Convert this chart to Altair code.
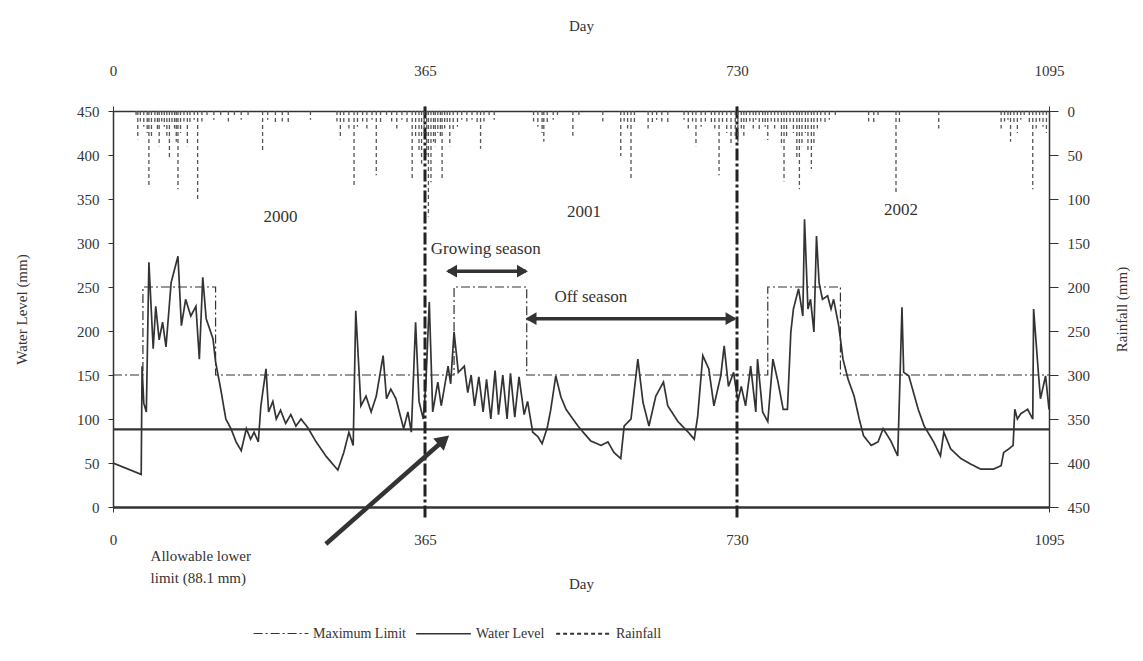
import altair as alt
import pandas as pd

FONT = "Liberation Serif"
INK = "#333333"

# ---------------- data ----------------
wl_day = [0,33,34,36,39,42,47,50,54,58,
          62,68,76,80,85,91,97,101,105,109,
          117,120,126,132,138,144,150,156,161,165,
          170,173,179,182,187,191,196,202,208,214,
          220,228,237,249,263,270,276,281,284,290,
          296,302,308,316,320,325,331,340,345,349,
          354,358,363,366,370,374,380,384,392,395,
          399,404,411,415,419,423,428,433,437,442,
          447,451,456,461,465,470,475,481,485,491,
          497,502,508,512,518,524,530,538,544,550,
          559,571,579,586,594,598,606,614,620,627,
          635,644,649,661,673,680,684,690,697,703,
          711,715,720,726,731,735,740,746,752,754,
          760,766,772,778,784,789,793,796,802,807,
          809,813,816,820,823,826,830,836,840,843,
          849,854,860,867,873,878,887,895,901,910,
          918,920,923,925,931,942,949,960,968,972,
          980,992,1003,1015,1030,1039,1042,1048,1053,1055,
          1058,1062,1070,1076,1077,1082,1085,1091,1095]
wl_val = [50,37,160,118,108,278,180,228,190,210,
          182,255,285,206,236,217,228,168,261,214,
          191,165,134,100,89,74,64,89,77,85,
          74,115,157,108,120,100,110,95,105,92,
          100,90,75,58,42,62,85,70,223,115,
          126,108,126,172,123,134,123,89,108,85,
          210,120,100,140,233,108,142,115,160,140,
          199,153,160,130,150,115,148,108,145,100,
          155,105,150,100,152,102,148,105,120,85,
          80,72,90,110,149,125,111,100,92,85,
          75,70,74,62,55,92,100,168,119,92,
          126,142,115,97,85,77,103,172,157,115,
          149,183,137,153,120,137,115,160,108,168,
          108,97,168,142,111,111,199,225,248,217,
          327,225,236,199,308,255,236,240,225,236,
          206,168,145,126,100,81,70,74,89,75,
          58,123,227,153,149,111,92,74,58,85,
          66,55,49,43,43,47,62,66,70,111,
          100,106,111,100,225,160,123,149,111]

max_day = [0,35,35,120,120,399,399,484,484,766,766,851,851,1095]
max_val = [150,150,250,250,150,150,250,250,150,150,250,250,150,150]

rain_day = [27,29,32,36,40,42,45,49,52,54,57,60,63,66,69,72,74,76,79,83,87,90,95,99,104,110,118,126,135,142,150,158,
            175,181,190,198,205,231,262,266,270,276,282,286,292,297,303,308,313,320,326,332,338,344,350,354,358,361,364,
            367,369,372,375,377,380,383,385,388,391,394,398,403,408,414,420,426,430,434,440,446,
            492,497,502,504,508,515,520,538,545,573,594,598,602,606,610,626,631,636,642,649,
            668,673,678,682,688,693,700,704,709,713,718,723,728,
            731,735,738,741,745,749,752,756,760,763,766,770,774,778,782,785,788,792,796,800,803,806,810,813,817,820,
            824,828,833,838,845,884,890,895,916,920,966,1039,1043,1047,1050,1054,1058,1062,1066,1072,1076,1080,1084,1088,1092]
rain_val = [8,32,12,18,25,84,30,15,22,40,12,18,28,55,14,20,35,89,25,12,40,15,10,103,12,8,10,6,12,8,10,6,
            47,10,15,12,14,10,12,32,15,20,85,18,12,20,10,73,15,8,12,20,10,15,77,30,45,60,25,
            50,120,81,35,40,25,30,77,20,15,40,22,18,10,12,10,15,43,12,8,10,
            12,18,25,35,15,10,8,28,8,12,51,12,20,77,15,20,15,10,12,14,
            10,20,12,40,18,12,15,20,73,15,25,40,30,
            35,20,28,15,12,20,10,22,15,18,33,12,20,15,40,80,30,15,25,55,89,40,25,45,66,40,
            20,12,15,10,6,12,15,8,95,15,20,20,12,10,35,15,25,10,8,15,89,20,12,18,25]

series_names = ["Maximum Limit", "Water Level", "Rainfall"]
vlines = [365, 730]
lower_limit = [88.1]

years = ["2000", "2001", "2002"]
year_day = [196, 551, 922]
year_val = [330, 335, 337]

season_text = ["Growing season", "Off season"]
season_text_day = [436, 559]
season_text_val = [293, 239]
season_start = [392, 485]
season_end = [483, 727]
season_val = [268, 214]

allow_text = ["Allowable lower\nlimit (88.1 mm)"]
allow_day = [44]
allow_val = [-56]
arrow_from = [249, -42]
arrow_to = [392, 80]

assert len(wl_day) == len(wl_val)
assert len(rain_day) == len(rain_val)

wl = pd.DataFrame({"day": wl_day, "value": wl_val, "series": "Water Level", "ord": range(len(wl_day))})
mx = pd.DataFrame({"day": max_day, "value": max_val, "series": "Maximum Limit", "ord": range(len(max_day))})
lines_df = pd.concat([mx, wl], ignore_index=True)
rain = pd.DataFrame({"day": rain_day, "rain": rain_val, "zero": 0, "series": "Rainfall"})
vl_df = pd.DataFrame({"day": vlines, "lo": -12, "hi": 456})
ll_df = pd.DataFrame({"value": lower_limit})
yr_df = pd.DataFrame({"day": year_day, "value": year_val, "label": years})
st_df = pd.DataFrame({"day": season_text_day, "value": season_text_val, "label": season_text})
sa_df = pd.DataFrame({"d1": season_start, "d2": season_end, "value": season_val})
heads = pd.DataFrame({
    "day": [s + 4 for s in season_start] + [e - 4 for e in season_end],
    "value": season_val + season_val,
    "shape": ["triangle-left"] * 2 + ["triangle-right"] * 2,
})
al_df = pd.DataFrame({"day": allow_day, "value": allow_val, "label": allow_text})
arr_df = pd.DataFrame({"d1": [arrow_from[0]], "v1": [arrow_from[1]], "d2": [arrow_to[0] - 6], "v2": [arrow_to[1] - 5]})
arr_head = pd.DataFrame({"day": [arrow_to[0] - 5], "value": [arrow_to[1] - 4]})

# ---------------- scales / axes ----------------
xs = alt.Scale(domain=[0, 1095], nice=False, zero=False)
ys = alt.Scale(domain=[0, 450], nice=False, zero=False)
dash_scale = alt.Scale(domain=series_names, range=[[9, 3, 2, 3], [1, 0], [4, 3]])
ticks = [0, 365, 730, 1095]

x_bottom = alt.X("day:Q", scale=xs, axis=alt.Axis(
    title="Day", values=ticks, orient="bottom", tickSize=5, labelPadding=20,
    titlePadding=29, domainWidth=2.5, format="d", grid=False, labelFlush=False))
y_left = alt.Y("value:Q", scale=ys, axis=alt.Axis(
    title="Water Level (mm)", values=list(range(0, 451, 50)), tickSize=5,
    labelPadding=9, titlePadding=47, grid=False))

legend = alt.Legend(title=None, orient="none", legendX=140, legendY=494, direction="horizontal",
                    symbolType="stroke", symbolSize=3000, symbolStrokeWidth=1.6,
                    symbolStrokeColor=INK, labelFont=FONT, labelFontSize=14,
                    labelColor=INK, columnPadding=6, labelOffset=4)

line_layer = alt.Chart(lines_df).mark_line(color=INK, interpolate="linear").encode(
    x=x_bottom, y=y_left, order="ord:Q", detail="series:N",
    strokeDash=alt.StrokeDash("series:N", scale=dash_scale, legend=legend),
    strokeWidth=alt.StrokeWidth("series:N", scale=alt.Scale(domain=series_names, range=[1.2, 2.2, 1.2]), legend=None),
)

ll_layer = alt.Chart(ll_df).mark_rule(color=INK, strokeWidth=2.2).encode(y="value:Q")

vl_layer = alt.Chart(vl_df).mark_rule(color="#222", strokeWidth=3, strokeDash=[12, 3, 3, 3]).encode(
    x="day:Q", y="lo:Q", y2="hi:Q")

yr_layer = alt.Chart(yr_df).mark_text(font=FONT, fontSize=17, color=INK).encode(
    x="day:Q", y="value:Q", text="label:N")
st_layer = alt.Chart(st_df).mark_text(font=FONT, fontSize=17, color=INK).encode(
    x="day:Q", y="value:Q", text="label:N")
sa_layer = alt.Chart(sa_df).mark_rule(color=INK, strokeWidth=3.5).encode(
    x="d1:Q", x2="d2:Q", y="value:Q")
head_layer = alt.Chart(heads).mark_point(filled=True, color=INK, size=160, opacity=1).encode(
    x="day:Q", y="value:Q", shape=alt.Shape("shape:N", scale=None))
al_layer = alt.Chart(al_df).mark_text(font=FONT, fontSize=15, color=INK, align="left",
                                      lineBreak="\n", lineHeight=22).encode(
    x="day:Q", y="value:Q", text="label:N")
arr_layer = alt.Chart(arr_df).mark_rule(color=INK, strokeWidth=4.5).encode(
    x="d1:Q", y="v1:Q", x2="d2:Q", y2="v2:Q")
arr_head_layer = alt.Chart(arr_head).mark_point(filled=True, color=INK, size=260, opacity=1,
                                                shape="triangle-up", angle=49).encode(
    x="day:Q", y="value:Q")

left = alt.layer(line_layer, ll_layer, vl_layer, yr_layer, st_layer, sa_layer, head_layer,
                 al_layer, arr_layer, arr_head_layer)

x_top = alt.X("day:Q", scale=xs, axis=alt.Axis(
    title="Day", values=ticks, orient="top", tickSize=5, labelPadding=28,
    titlePadding=30, format="d", grid=False, labelFlush=False))
y_right = alt.Y("zero:Q", scale=alt.Scale(domain=[0, 450], reverse=True, nice=False, zero=False),
                axis=alt.Axis(title="Rainfall (mm)", orient="right", values=list(range(0, 451, 50)),
                              tickSize=9, labelPadding=9, titlePadding=40, titleAngle=270, grid=False))

rain_layer = alt.Chart(rain).mark_rule(color="#555", strokeWidth=1.3, strokeDash=[4, 3]).encode(
    x=x_top, y=y_right, y2="rain:Q",
    strokeDash=alt.StrokeDash("series:N", scale=dash_scale, legend=legend),
)

chart = alt.layer(left, rain_layer).resolve_scale(x="independent", y="independent").properties(
    width=936, height=396, padding={"left": 6, "top": 10, "right": 0, "bottom": 0},
    background="white"
).configure_view(stroke=None).configure_axis(
    labelFont=FONT, titleFont=FONT, labelFontSize=15, titleFontSize=15,
    labelColor=INK, titleColor=INK, domainColor=INK, tickColor=INK,
    titleFontWeight="normal", grid=False, domainWidth=1.5
)

chart.save("out.html", embed_options={"renderer": "svg", "actions": False})
